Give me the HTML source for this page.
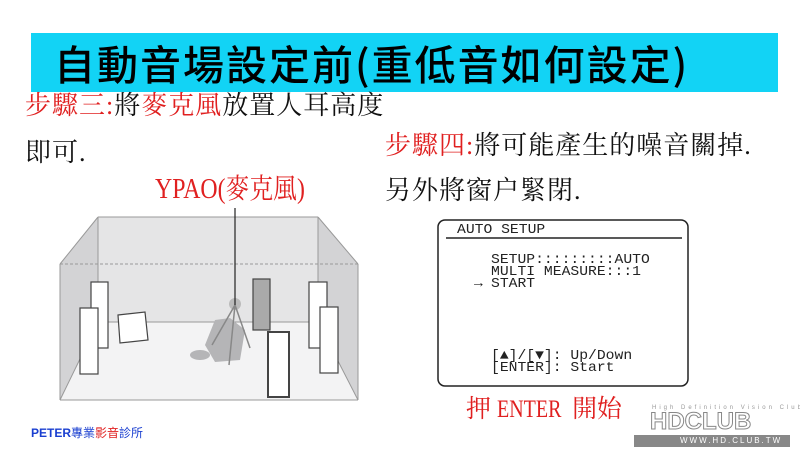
<!DOCTYPE html>
<html><head><meta charset="utf-8"><style>
body{margin:0;width:800px;height:450px;background:#fff;position:relative;overflow:hidden;font-family:"Liberation Serif","Noto Serif CJK TC",serif}
.a{position:absolute;white-space:nowrap}
.r{color:#e02020}
.t{font-size:26px;line-height:30px;color:#111;letter-spacing:1px}
.m{font-family:"Liberation Mono","DejaVu Sans Mono",monospace;font-size:14px;line-height:12px;color:#222;transform:scaleX(1.05);transform-origin:left}
</style></head><body>
<div class="a" style="left:31px;top:33px;width:747px;height:59px;background:#12d3f5"></div>
<div class="a" style="left:54px;top:33px;font-family:'Noto Sans CJK TC',sans-serif;font-weight:500;font-size:41px;line-height:59px;letter-spacing:2px;color:#000">自動音場設定前(重低音如何設定)</div>
<div class="a t" style="left:25px;top:91px"><span class="r">步驟三:</span>將<span class="r">麥克風</span>放置人耳高度</div>
<div class="a t" style="left:25px;top:138px">即可.</div>
<div class="a t" style="left:385px;top:131px"><span class="r">步驟四:</span>將可能產生的噪音關掉.</div>
<div class="a t" style="left:385px;top:176px">另外將窗户緊閉.</div>
<div class="a r" style="left:155px;top:174px;font-size:28px;line-height:32px;transform:scaleX(0.85);transform-origin:left">YPAO(麥克風)</div>
<svg class="a" style="left:0;top:0" width="800" height="450">
<polygon points="60,400 358,400 318,322 98,322" fill="#f3f3f4"/>
<rect x="98" y="217" width="220" height="105" fill="#e5e5e6"/>
<polygon points="60,264 98,217 98,322 60,400" fill="#d3d3d5"/>
<polygon points="358,264 318,217 318,322 358,400" fill="#d3d3d5"/>
<g stroke="#999" stroke-width="1" fill="none">
<line x1="98" y1="217" x2="318" y2="217"/><line x1="98" y1="217" x2="98" y2="322"/><line x1="318" y1="217" x2="318" y2="322"/>
<line x1="98" y1="322" x2="318" y2="322"/><line x1="60" y1="400" x2="98" y2="322"/><line x1="358" y1="400" x2="318" y2="322"/>
<line x1="60" y1="264" x2="98" y2="217"/><line x1="358" y1="264" x2="318" y2="217"/>
<line x1="60" y1="400" x2="358" y2="400"/><line x1="60" y1="264" x2="60" y2="400"/><line x1="358" y1="264" x2="358" y2="400"/>
<line x1="60" y1="264" x2="358" y2="264" stroke-dasharray="3,2"/>
</g>
<g fill="#b5b5b7"><path d="M205,345 L215,320 L230,318 L245,330 L240,360 L215,362 Z"/><ellipse cx="200" cy="355" rx="10" ry="5"/></g>
<g stroke="#444" stroke-width="1.2" fill="#fff">
<rect x="91" y="282" width="17" height="66"/><rect x="80" y="308" width="18" height="66"/>
<polygon points="118,315 145,312 148,340 120,343"/>
<rect x="253" y="279" width="17" height="51" fill="#aaa"/>
<rect x="268" y="332" width="21" height="65" stroke-width="2"/>
<rect x="309" y="282" width="18" height="66"/><rect x="320" y="307" width="18" height="66"/>
</g>
<circle cx="235" cy="304" r="6" fill="#bbb"/>
<g stroke="#888" stroke-width="1.5"><line x1="235" y1="305" x2="212" y2="345"/><line x1="235" y1="305" x2="229" y2="365"/><line x1="235" y1="305" x2="250" y2="348"/></g>
<line x1="235" y1="208" x2="235" y2="305" stroke="#222" stroke-width="1.2"/>
<rect x="438" y="220" width="250" height="166" rx="7" fill="#fff" stroke="#222" stroke-width="1.5"/>
<line x1="446" y1="238" x2="682" y2="238" stroke="#222" stroke-width="1.5"/>
<rect x="634" y="435" width="156" height="12" fill="#888"/>
</svg>
<div class="a m" style="left:457px;top:224px">AUTO SETUP</div>
<div class="a m" style="left:491px;top:254px">SETUP:::::::::AUTO<br>MULTI MEASURE:::1<br>START</div>
<div class="a m" style="left:474px;top:278px">→</div>
<div class="a m" style="left:491px;top:350px">[▲]/[▼]: Up/Down<br>[ENTER]: Start</div>
<div class="a r" style="left:466px;top:396px;font-size:25px;line-height:28px">押 <span style="display:inline-block;transform:scaleX(0.8);transform-origin:left;margin-right:-12px">ENTER</span> 開始</div>
<div class="a" style="left:652px;top:405px;font-family:'Liberation Sans',sans-serif;font-size:6px;letter-spacing:3px;color:#999">High Definition Vision Club</div>
<div class="a" style="left:650px;top:410px;font-family:'Liberation Sans',sans-serif;font-weight:700;font-size:24px;line-height:24px;color:#fff;-webkit-text-stroke:1px #888">HDCLUB</div>
<div class="a" style="left:680px;top:436px;font-family:'Liberation Sans',sans-serif;font-size:8px;line-height:10px;letter-spacing:2px;color:#fff">WWW.HD.CLUB.TW</div>
<div class="a" style="left:31px;top:424px;font-family:'Liberation Sans','Noto Sans CJK TC',sans-serif;font-size:12px;font-weight:700;color:#1a3fd0">PETER<span style="font-weight:400">專業<span class="r">影音</span>診所</span></div>
</body></html>
